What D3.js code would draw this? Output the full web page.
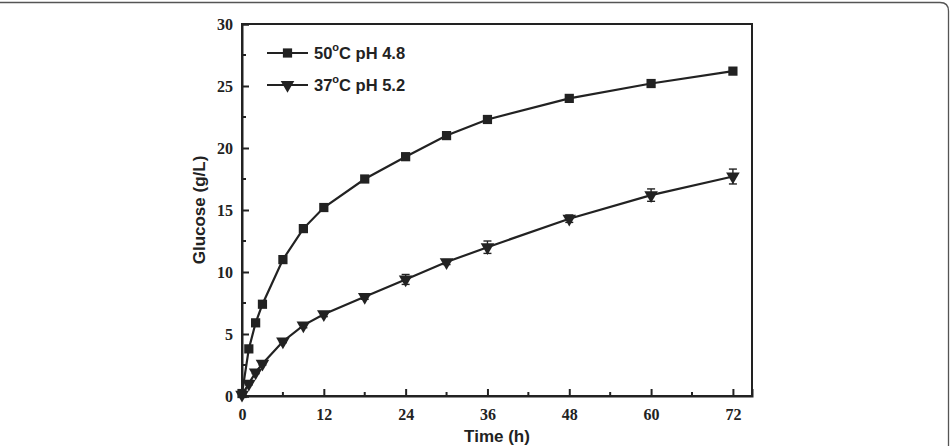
<!DOCTYPE html>
<html lang="en">
<head>
    <meta charset="utf-8">
    <title>Glucose release over time</title>
    <script type="text/javascript" src="https://cdn.jsdelivr.net/npm/d3@7"></script>
    <style type="text/css">
        body { margin: 0; background: #fff; }
    </style>
</head>
<body>
    <script type="text/javascript">

        //Data
        var hours = [0, 1, 2, 3, 6, 9, 12, 18, 24, 30, 36, 48, 60, 72];
        var glucose50 = [0.2, 3.8, 5.9, 7.4, 11.0, 13.5, 15.2, 17.5, 19.3, 21.0, 22.3, 24.0, 25.2, 26.2];
        var glucose37 = [0.1, 1.0, 1.9, 2.6, 4.4, 5.7, 6.6, 8.0, 9.4, 10.8, 12.0, 14.3, 16.2, 17.7];
        var err37 = [0, 0.1, 0.1, 0.1, 0.1, 0.2, 0.2, 0.2, 0.4, 0.2, 0.5, 0.3, 0.5, 0.6];
        var xTicks = [0, 12, 24, 36, 48, 60, 72];
        var yTicks = [0, 5, 10, 15, 20, 25, 30];
        var legendLabels = ["50", "37"];
        var legendRest = ["C pH 4.8", "C pH 5.2"];

        //Width and height
        var w = 951;
        var h = 446;
        var pLeft = 242, pRight = 752, pTop = 24, pBottom = 396;
        var ink = "#222";

        var x = d3.scaleLinear().domain([0, 74.8]).range([pLeft, pRight]);
        var y = d3.scaleLinear().domain([0, 30]).range([pBottom, pTop]);

        var svg = d3.select("body")
            .append("svg")
            .attr("width", w)
            .attr("height", h);

        //Figure border (top edge with rounded corner)
        svg.append("path")
            .attr("d", "M0,2.5 H940 Q948.5,2.5 948.5,11 V446")
            .attr("fill", "none")
            .attr("stroke", "#555")
            .attr("stroke-width", 1.3);

        //Frame
        svg.append("rect")
            .attr("x", pLeft).attr("y", pTop)
            .attr("width", pRight - pLeft).attr("height", pBottom - pTop)
            .attr("fill", "none").attr("stroke", ink).attr("stroke-width", 2);

        //Axes with inward ticks
        var xAxis = d3.axisBottom(x).tickValues(xTicks).tickSize(-7).tickPadding(13);
        var gx = svg.append("g").attr("transform", "translate(0," + pBottom + ")").call(xAxis);
        var yAxis = d3.axisLeft(y).tickValues(yTicks).tickSize(-7).tickPadding(9);
        var gy = svg.append("g").attr("transform", "translate(" + pLeft + ",0)").call(yAxis);
        [gx, gy].forEach(function (g) {
            g.select(".domain").attr("stroke", ink).attr("stroke-width", 2);
            g.selectAll(".tick line").attr("stroke", ink).attr("stroke-width", 2);
            g.selectAll(".tick text")
                .style("font-family", "'Liberation Serif', 'Times New Roman', serif")
                .style("font-weight", "bold").style("font-size", "16px").style("fill", ink);
        });

        //Minor ticks
        var minorX = d3.range(6, 72, 12);
        var minorY = d3.range(2.5, 30, 5);
        svg.selectAll(".mx").data(minorX).enter().append("line")
            .attr("x1", function (d) { return x(d); }).attr("x2", function (d) { return x(d); })
            .attr("y1", pBottom).attr("y2", pBottom - 4)
            .attr("stroke", ink).attr("stroke-width", 2);
        svg.selectAll(".my").data(minorY).enter().append("line")
            .attr("x1", pLeft).attr("x2", pLeft + 4)
            .attr("y1", function (d) { return y(d); }).attr("y2", function (d) { return y(d); })
            .attr("stroke", ink).attr("stroke-width", 2);

        //Axis titles
        svg.append("text")
            .attr("x", (pLeft + pRight) / 2).attr("y", 442)
            .attr("text-anchor", "middle")
            .style("font-family", "'Liberation Sans', Arial, sans-serif")
            .style("font-weight", "bold").style("font-size", "17px").style("fill", ink)
            .text("Time (h)");
        svg.append("text")
            .attr("transform", "translate(205," + ((pTop + pBottom) / 2) + ") rotate(-90)")
            .attr("text-anchor", "middle")
            .style("font-family", "'Liberation Sans', Arial, sans-serif")
            .style("font-weight", "bold").style("font-size", "17px").style("fill", ink)
            .text("Glucose (g/L)");

        var line = d3.line()
            .x(function (d) { return x(d[0]); })
            .y(function (d) { return y(d[1]); });

        var s50 = hours.map(function (t, i) { return [t, glucose50[i]]; });
        var s37 = hours.map(function (t, i) { return [t, glucose37[i], err37[i]]; });

        svg.append("path").datum(s50).attr("d", line)
            .attr("fill", "none").attr("stroke", ink).attr("stroke-width", 2.2);
        svg.append("path").datum(s37).attr("d", line)
            .attr("fill", "none").attr("stroke", ink).attr("stroke-width", 2.2);

        //Error bars for 37 C series
        var eb = svg.selectAll(".eb").data(s37.filter(function (d) { return d[2] > 0; }))
            .enter().append("g").attr("stroke", ink).attr("stroke-width", 1.4);
        eb.append("line")
            .attr("x1", function (d) { return x(d[0]); }).attr("x2", function (d) { return x(d[0]); })
            .attr("y1", function (d) { return y(d[1] + d[2]); }).attr("y2", function (d) { return y(d[1] - d[2]); });
        eb.append("line")
            .attr("x1", function (d) { return x(d[0]) - 4; }).attr("x2", function (d) { return x(d[0]) + 4; })
            .attr("y1", function (d) { return y(d[1] + d[2]); }).attr("y2", function (d) { return y(d[1] + d[2]); });
        eb.append("line")
            .attr("x1", function (d) { return x(d[0]) - 4; }).attr("x2", function (d) { return x(d[0]) + 4; })
            .attr("y1", function (d) { return y(d[1] - d[2]); }).attr("y2", function (d) { return y(d[1] - d[2]); });

        var sq = d3.symbol().type(d3.symbolSquare).size(85);
        var tri = d3.symbol().type(d3.symbolTriangle).size(80);

        svg.selectAll(".m50").data(s50).enter().append("path")
            .attr("d", sq)
            .attr("transform", function (d) { return "translate(" + x(d[0]) + "," + y(d[1]) + ")"; })
            .attr("fill", ink);
        svg.selectAll(".m37").data(s37).enter().append("path")
            .attr("d", tri)
            .attr("transform", function (d) { return "translate(" + x(d[0]) + "," + y(d[1]) + ") rotate(180)"; })
            .attr("fill", ink);

        //Legend
        var legY = [53, 85];
        var legMarks = [sq, tri];
        legendLabels.forEach(function (lab, i) {
            var g = svg.append("g").attr("transform", "translate(0," + legY[i] + ")");
            g.append("line").attr("x1", 267).attr("x2", 308).attr("y1", 0).attr("y2", 0)
                .attr("stroke", ink).attr("stroke-width", 2.2);
            g.append("path").attr("d", legMarks[i])
                .attr("transform", "translate(287.5,0)" + (i === 1 ? " rotate(180)" : ""))
                .attr("fill", ink);
            var t = g.append("text").attr("x", 314).attr("y", 6)
                .style("font-family", "'Liberation Sans', Arial, sans-serif")
                .style("font-weight", "bold").style("font-size", "16.5px").style("fill", ink);
            t.append("tspan").text(lab);
            t.append("tspan").attr("dy", -8).style("font-size", "11px").text("o");
            t.append("tspan").attr("dy", 8).text(legendRest[i]);
        });
    </script>
</body>
</html>
